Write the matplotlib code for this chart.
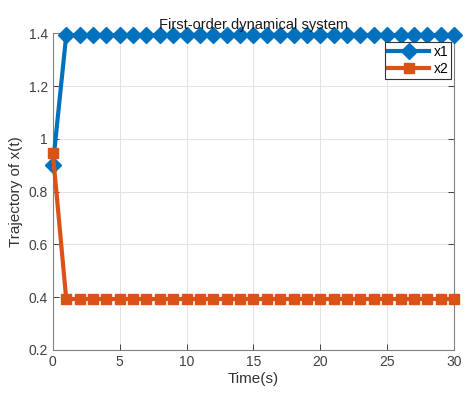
import matplotlib.pyplot as plt
import numpy as np

plt.rcParams['font.family'] = ['Liberation Sans', 'DejaVu Sans']

# Trajectory data
time = np.arange(0, 31)
x1 = [0.9] + [1.393] * 30
x2 = [0.947] + [0.393] * 30

blue = '#0072BD'
orange = '#D95319'
axis_gray = '#262626'

fig = plt.figure(figsize=(4.76, 3.94), dpi=100)
ax = fig.add_axes([0.111, 0.112, 0.843, 0.803])

ax.plot(time, x1, color=blue, linewidth=3, marker='D', markersize=8.5,
        label='x1', clip_on=False, zorder=3)
ax.plot(time, x2, color=orange, linewidth=3, marker='s', markersize=6.5,
        label='x2', clip_on=False, zorder=3)

ax.set_xlim(0, 30)
ax.set_ylim(0.2, 1.4)
ax.set_xticks([0, 5, 10, 15, 20, 25, 30])
ax.set_yticks([0.2, 0.4, 0.6, 0.8, 1.0, 1.2, 1.4])
ax.set_yticklabels(['0.2', '0.4', '0.6', '0.8', '1', '1.2', '1.4'])

ax.grid(True, color='#e3e3e3', linewidth=0.7)
ax.set_axisbelow(True)
ax.tick_params(direction='in', top=True, right=True, length=4, width=0.6,
               colors=axis_gray, labelsize=10, labelcolor='#404040')
for s in ax.spines.values():
    s.set_color('#808080')
    s.set_linewidth(0.8)

ax.set_title('First-order dynamical system', fontsize=10.5, color='#1a1a1a', pad=3)
ax.set_xlabel('Time(s)', fontsize=11, color='#333333', labelpad=2)
ax.set_ylabel('Trajectory of x(t)', fontsize=11, color='#333333', labelpad=4)

leg = ax.legend(loc='upper right', bbox_to_anchor=(0.993, 0.972), fontsize=10,
                fancybox=False, framealpha=1, edgecolor='#333333',
                handlelength=3.0, borderpad=0.2, labelspacing=0.2,
                handletextpad=0.3, borderaxespad=0.0)
leg.get_frame().set_linewidth(0.8)
leg.set_zorder(5)

plt.savefig('out.png', dpi=100)
